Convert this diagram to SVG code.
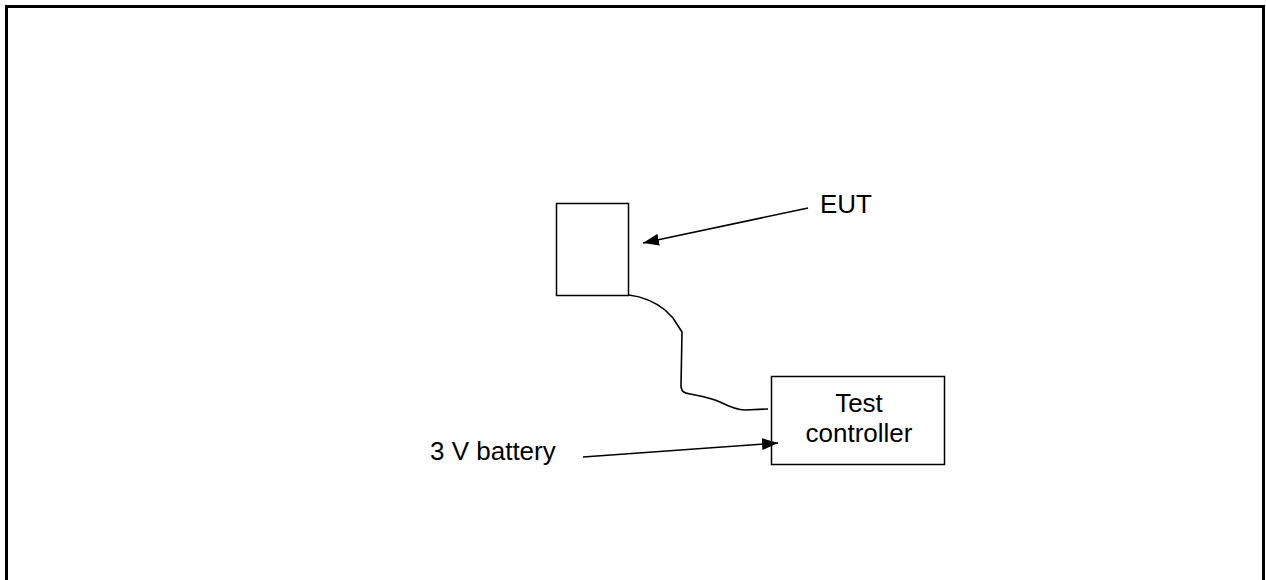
<svg xmlns="http://www.w3.org/2000/svg" width="1266" height="580" viewBox="0 0 1266 580">
<defs>
<style>
.box{fill:#fff;stroke:#000;stroke-width:1.5}
.ln{fill:none;stroke:#000;stroke-width:1.6}
.t{font-family:"Liberation Sans",Arial,sans-serif;font-size:26px;fill:#000}
</style>
<marker id="ah2" markerWidth="16" markerHeight="12" refX="16" refY="6" orient="auto" markerUnits="userSpaceOnUse" viewBox="0 0 16 12">
<path d="M0,0 L16,6 L0,12 z" fill="#000"/>
</marker>
</defs>
<rect x="6.5" y="6.5" width="1257" height="600" fill="none" stroke="#000" stroke-width="3"/>
<g id="eut">
<rect class="box" x="556.5" y="203.5" width="72" height="92"/>
</g>
<g id="controller">
<rect class="box" x="771.5" y="376.5" width="173" height="88"/>
<text class="t" x="859" y="412" text-anchor="middle">Test</text>
<text class="t" x="859" y="442" text-anchor="middle">controller</text>
</g>
<g id="labels">
<text class="t" x="820" y="213">EUT</text>
<text class="t" x="430" y="460">3 V battery</text>
</g>
<g id="connectors">
<path class="ln" d="M629,295 C645,297 655,302 665,310 L673,318 L682,332 L681,387 C682,392 684,393 690,394 C700,396 712,398 720,402 C730,407 737,410 745,410 L768,409"/>
<line class="ln" x1="808" y1="208" x2="643" y2="243" marker-end="url(#ah2)"/>
<line class="ln" x1="583" y1="457" x2="778" y2="443" marker-end="url(#ah2)"/>
</g>
</svg>
